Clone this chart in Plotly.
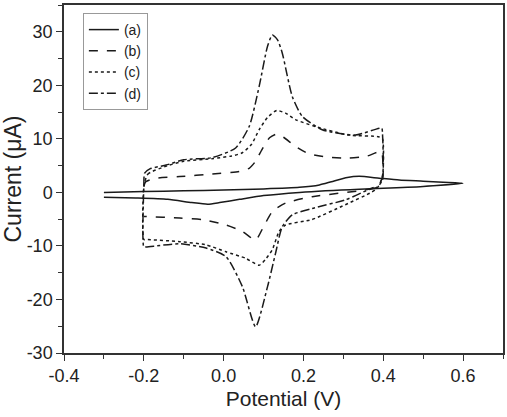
import plotly.graph_objects as go

# (a) solid
xa = [-0.3, -0.2, -0.1, 0.0, 0.1, 0.19, 0.24, 0.27, 0.31, 0.34, 0.39, 0.44, 0.5, 0.55, 0.6,
      0.5, 0.4, 0.34, 0.19, 0.1, 0.04, -0.01, -0.04, -0.08, -0.14, -0.22, -0.3]
ya = [0.0, 0.15, 0.3, 0.45, 0.65, 0.95, 1.4, 2.0, 2.8, 3.0, 2.65, 2.3, 2.1, 1.9, 1.7,
      1.1, 0.75, 0.6, 0.0, -0.6, -1.3, -1.9, -2.2, -1.9, -1.3, -1.05, -0.9]

# (b) dashed
xb = [-0.2, -0.195, -0.169, -0.11, -0.028, 0.039, 0.064, 0.08, 0.096, 0.115, 0.133, 0.15, 0.18,
      0.214, 0.26, 0.313, 0.36, 0.395, 0.398, 0.39, 0.363, 0.222, 0.155, 0.122, 0.10, 0.08,
      0.047, 0.006, -0.052, -0.11, -0.198, -0.2]
yb = [1.2, 2.0, 2.65, 2.95, 3.45, 3.9, 4.5, 5.8, 8.0, 10.2, 10.9, 10.3, 8.6,
      7.2, 6.6, 6.4, 6.8, 7.6, 3.0, 1.5, 0.6, -0.8, -2.0, -3.6, -6.4, -8.9,
      -7.3, -6.1, -5.1, -4.8, -4.5, -4.5]

# (c) dotted
xc = [-0.2, -0.19, -0.14, -0.1, -0.03, 0.02, 0.047, 0.07, 0.089, 0.11, 0.133, 0.155, 0.18,
      0.23, 0.313, 0.388, 0.398, 0.398, 0.385, 0.37, 0.305, 0.22, 0.155, 0.139, 0.122, 0.105,
      0.089, 0.055, 0.006, -0.044, -0.11, -0.194, -0.2, -0.2]
yc = [1.0, 3.4, 5.0, 5.8, 6.3, 6.8, 7.4, 9.0, 11.7, 14.0, 15.3, 14.8, 13.6,
      12.3, 10.7, 10.4, 10.0, 3.0, 0.8, 0.0, -2.3, -5.1, -6.1, -7.3, -10.7, -12.5,
      -13.6, -12.3, -11.1, -9.8, -9.2, -8.8, -8.8, 1.0]

# (d) dash-dot
xd = [-0.2, -0.198, -0.185, -0.144, -0.1, -0.028, 0.03, 0.064, 0.089, 0.11, 0.122, 0.135,
      0.147, 0.172, 0.197, 0.247, 0.33, 0.396, 0.398, 0.398, 0.385, 0.363, 0.305, 0.222,
      0.172, 0.147, 0.13, 0.11, 0.08, 0.047, 0.006, -0.044, -0.11, -0.194, -0.2, -0.2]
yd = [1.1, 3.6, 4.4, 5.1, 6.1, 6.5, 8.3, 12.3, 19.8, 27.3, 29.4, 28.5,
      26.0, 17.9, 14.2, 11.7, 10.7, 12.0, 11.0, 2.3, 1.0, 0.5, -1.4, -3.0,
      -4.2, -6.4, -11.4, -17.6, -25.1, -17.6, -12.0, -10.4, -9.6, -10.2, -10.2, 1.1]

labels = ["(a)", "(b)", "(c)", "(d)"]
dashes = ["solid", "dash", "dot", "dashdot"]

fig = go.Figure()
for xs, ys, name, dash in zip([xa, xb, xc, xd], [ya, yb, yc, yd], labels, dashes):
    fig.add_trace(go.Scatter(x=xs, y=ys, mode="lines", name=name,
                             line=dict(color="#1a1a1a", width=1.5, dash=dash,
                                       shape="spline", smoothing=0.6)))

font = "Liberation Sans, Arial, sans-serif"
fig.update_layout(
    width=507, height=417,
    margin=dict(l=64, r=2, t=5, b=64),
    paper_bgcolor="white", plot_bgcolor="white",
    font=dict(family=font, color="#222"),
    showlegend=True,
    legend=dict(x=0.043, y=0.977, xanchor="left", yanchor="top",
                bordercolor="#999", borderwidth=1, bgcolor="white",
                font=dict(size=14, family=font), tracegroupgap=0,
                itemwidth=30),
)
fig.update_xaxes(range=[-0.4, 0.7], tickvals=[-0.4, -0.2, 0.0, 0.2, 0.4, 0.6],
                 ticktext=["-0.4", "-0.2", "0.0", "0.2", "0.4", "0.6"],
                 ticks="outside", ticklen=6, tickwidth=1.2, tickcolor="#333",
                 minor=dict(dtick=0.1, ticks="outside", ticklen=4, tickcolor="#333"),
                 showline=True, linecolor="#333", linewidth=1.5, mirror=True,
                 showgrid=False, zeroline=False,
                 tickfont=dict(size=18, family=font, color="#222"),
                 title=dict(text="Potential (V)", font=dict(size=21, family=font, color="#222"), standoff=6))
fig.update_yaxes(range=[-30, 35], tickvals=[-30, -20, -10, 0, 10, 20, 30],
                 ticktext=["-30", "-20", "-10", "0", "10", "20", "30"],
                 ticks="outside", ticklen=6, tickwidth=1.2, tickcolor="#333",
                 minor=dict(dtick=5, ticks="outside", ticklen=4, tickcolor="#333"),
                 showline=True, linecolor="#333", linewidth=1.5, mirror=True,
                 showgrid=False, zeroline=False,
                 tickfont=dict(size=18, family=font, color="#222"),
                 title=dict(text="Current (μA)", font=dict(size=23, family=font, color="#222"), standoff=4))
fig.write_html("out.html")
